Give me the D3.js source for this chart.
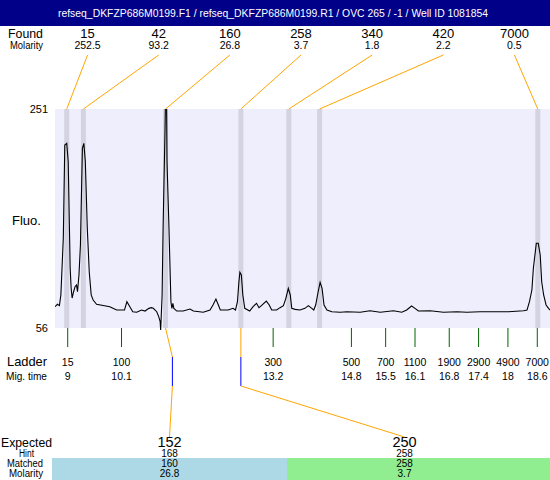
<!DOCTYPE html>
<html><head><meta charset="utf-8">
<script src="https://cdn.jsdelivr.net/npm/d3@7"></script>
<style>
body{margin:0;background:#fff;}
text{font-family:"Liberation Sans",Arial,sans-serif;}
</style></head>
<body><svg id="c" width="550" height="480"></svg>
<script>
const title = "refseq_DKFZP686M0199.F1 / refseq_DKFZP686M0199.R1 / OVC 265 / -1 / Well ID 1081854";
// Found peaks
const foundSizes = ["15","42","160","258","340","420","7000"];
const foundMolarity = ["252.5","93.2","26.8","3.7","1.8","2.2","0.5"];
const foundTimes = [8.98, 9.32, 11.00, 12.54, 13.52, 14.15, 18.61];
// Ladder
const ladderSizes = ["15","100","300","500","700","1100","1900","2900","4900","7000"];
const ladderTimes = [9, 10.1, 13.2, 14.8, 15.5, 16.1, 16.8, 17.4, 18, 18.6];
// Expected
const expectedSizes = ["152","250"];
const expectedHint = ["168","258"];
const expectedMatched = ["160","258"];
const expectedMolarity = ["26.8","3.7"];
const expectedTimes = [11.14, 12.54];
const expectedFoundIndex = [2, 3];
// Fluorescence axis
const fluoMin = 56, fluoMax = 251;
const timeMin = 8.74, timeMax = 18.86;
// Electropherogram trace
const traceTime = [8.74,8.79,8.83,8.86,8.91,8.94,8.98,9.01,9.05,9.07,9.09,9.12,9.15,9.18,9.20,9.23,9.26,9.30,9.33,9.36,9.40,9.44,9.48,9.52,9.59,9.86,10.00,10.16,10.21,10.27,10.33,10.41,10.51,10.58,10.66,10.71,10.75,10.82,10.86,10.89,10.90,10.93,10.95,10.99,11.00,11.02,11.03,11.07,11.11,11.13,11.15,11.17,11.23,11.36,11.50,11.57,11.77,11.91,11.97,12.03,12.08,12.12,12.28,12.38,12.43,12.47,12.50,12.52,12.55,12.58,12.62,12.72,12.79,12.86,12.91,12.96,13.06,13.12,13.17,13.27,13.34,13.41,13.46,13.51,13.55,13.58,13.65,13.75,13.85,13.92,13.99,14.03,14.07,14.12,14.16,14.20,14.24,14.30,14.40,14.57,14.71,14.98,15.18,15.39,15.66,15.83,15.93,16.03,16.10,16.17,16.41,16.68,16.96,17.16,17.43,17.77,18.01,18.32,18.39,18.44,18.49,18.52,18.58,18.62,18.66,18.69,18.73,18.78,18.83,18.86];
const traceFluo = [75.0,77.1,75.9,85.4,136.1,218.9,220.4,204.1,109.4,91.6,82.7,88.3,92.8,94.3,88.3,103.2,129.9,216.0,220.4,204.1,145.0,106.1,85.4,80.9,77.1,75.0,72.0,72.0,79.4,75.0,70.5,70.0,72.0,71.1,73.5,74.1,73.5,70.5,66.1,61.6,54.0,85.4,145.0,234.1,262,262,204.1,145.0,79.4,73.5,78.0,73.5,71.1,71.1,72.9,71.1,70.0,72.0,76.5,81.8,76.5,72.0,72.0,73.5,72.0,79.4,97.2,105.6,103.2,85.4,73.5,71.1,75.0,78.0,74.1,75.9,80.0,76.5,72.0,72.0,74.1,75.9,82.4,91.3,85.4,73.5,72.6,72.0,73.5,75.9,73.5,72.0,76.5,88.3,96.7,91.3,76.5,72.0,70.5,70.0,70.5,70.0,71.4,70.0,71.4,70.0,72.0,75.6,73.5,71.1,71.4,70.0,70.5,70.0,70.5,70.5,70.5,71.4,72.0,79.4,89.8,109.2,131.4,131.4,121.0,97.2,85.4,76.5,73.5,72.0];

const svg = d3.select("#c");
const W = 550;
const plotL = 55, plotR = 550, plotT = 109, plotB = 328;
const x = d3.scaleLinear().domain([timeMin, timeMax]).range([plotL, plotR]);
const y = d3.scaleLinear().domain([fluoMin, fluoMax]).range([plotB, plotT]);
const orange = "#FFA500";

function label(xp, yp, size, txt, len){
  const t = svg.append("text").attr("x",xp).attr("y",yp).attr("font-size",size).text(txt);
  if (len) t.attr("textLength",len).attr("lengthAdjust","spacingAndGlyphs");
  return t;
}

// title bar
svg.append("rect").attr("x",0).attr("y",0).attr("width",W).attr("height",26).attr("fill","#000088");
label(58,17,11,title,430).attr("fill","#fff");

// Found header
const fx = d3.scaleBand().domain(d3.range(foundSizes.length)).range([52, 550]);
label(8,38,13,"Found",35);
label(10,49,10,"Molarity",33);
foundSizes.forEach((s,i)=>{
  const cx = fx(i)+fx.bandwidth()/2;
  label(cx,38,13,s).attr("text-anchor","middle");
  label(cx,49,10.5,foundMolarity[i]).attr("text-anchor","middle");
});

// plot background
svg.append("rect").attr("x",plotL).attr("y",plotT).attr("width",plotR-plotL).attr("height",plotB-plotT).attr("fill","#EEEEFD");
// found bands
foundTimes.forEach(t=>{
  svg.append("rect").attr("x",x(t)-2.5).attr("y",plotT).attr("width",5).attr("height",plotB-plotT).attr("fill","#D3D3E1");
});
// connectors from found labels
foundTimes.forEach((t,i)=>{
  const cx = fx(i)+fx.bandwidth()/2;
  svg.append("line").attr("x1",cx).attr("y1",55).attr("x2",x(t)).attr("y2",plotT)
    .attr("stroke",orange).attr("stroke-width",1);
});

// y labels
label(48,113,11,fluoMax).attr("text-anchor","end");
label(48,332,11,fluoMin).attr("text-anchor","end");
label(12,225,12,"Fluo.",29);

// trace
svg.append("clipPath").attr("id","clip").append("rect").attr("x",plotL).attr("y",plotT).attr("width",plotR-plotL).attr("height",plotB-plotT+2);
const pts = traceTime.map((t,i)=>[t, traceFluo[i]]);
svg.append("path").attr("clip-path","url(#clip)").datum(pts)
  .attr("d", d3.line().x(d=>x(d[0])).y(d=>y(d[1])))
  .attr("fill","none").attr("stroke","#000").attr("stroke-width",1.1);

// ladder ticks
ladderTimes.forEach((t,i)=>{
  svg.append("line").attr("x1",x(t)).attr("x2",x(t)).attr("y1",plotB).attr("y2",347).attr("stroke","#006400").attr("stroke-width",1);
  label(x(t),366,10.5,ladderSizes[i]).attr("text-anchor","middle");
  label(x(t),380,10.5,String(t)).attr("text-anchor","middle");
});
label(7,366,13,"Ladder",40);
label(6,380,10.5,"Mig. time",41);

// Expected section
const ex = d3.scaleBand().domain(d3.range(expectedSizes.length)).range([52, 522]);
label(1,447,13,"Expected",51);
label(19,457,10,"Hint",15);
label(7,467,10,"Matched",36);
label(9,477,10,"Molarity",34);
const fills = ["#ADD8E6","#90EE90"];
expectedSizes.forEach((s,i)=>{
  const x0 = ex(i);
  const w = i === expectedSizes.length-1 ? W - x0 : ex.bandwidth();
  svg.append("rect").attr("x",x0).attr("y",458).attr("width",w).attr("height",22).attr("fill",fills[i]);
});
expectedSizes.forEach((s,i)=>{
  const cx = ex(i)+ex.bandwidth()/2;
  label(cx,447,14.5,s).attr("text-anchor","middle");
  label(cx,457,10,expectedHint[i]).attr("text-anchor","middle");
  label(cx,467,10,expectedMatched[i]).attr("text-anchor","middle");
  label(cx,477,10,expectedMolarity[i]).attr("text-anchor","middle");
  // connector
  const fxp = x(foundTimes[expectedFoundIndex[i]]);
  const exp = x(expectedTimes[i]);
  svg.append("path").attr("d", d3.line()([[fxp,plotB],[exp,357]])).attr("stroke",orange).attr("fill","none");
  svg.append("line").attr("x1",exp).attr("x2",exp).attr("y1",357).attr("y2",386).attr("stroke","#0000FF");
  svg.append("path").attr("d", d3.line()([[exp,386],[cx,437]])).attr("stroke",orange).attr("fill","none");
});
</script></body></html>
